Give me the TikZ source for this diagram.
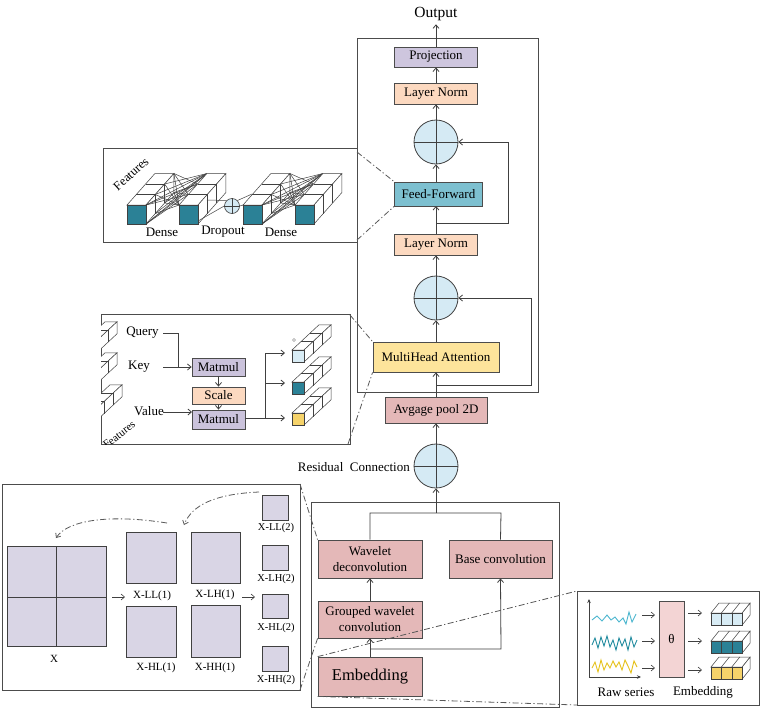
\documentclass[tikz,border=0pt]{standalone}
\usepackage{fontspec}
\setmainfont{Liberation Serif}
\usetikzlibrary{arrows.meta,calc}
\definecolor{projc}{HTML}{CEC6DE}
\definecolor{lnc}{HTML}{FCD9C0}
\definecolor{circc}{HTML}{D5EAF4}
\definecolor{ffc}{HTML}{7DC0D0}
\definecolor{mhac}{HTML}{FDE49B}
\definecolor{pinkc}{HTML}{E4B8B8}
\definecolor{lavc}{HTML}{D9D5E5}
\definecolor{tealc}{HTML}{2B8196}
\definecolor{lbluec}{HTML}{D8ECF5}
\definecolor{yelc}{HTML}{F6D36A}
\definecolor{matc}{HTML}{CBC3DC}
\definecolor{thetac}{HTML}{F3D4D4}
\definecolor{wblue}{HTML}{4FB8D0}
\definecolor{wteal}{HTML}{1F8A9E}
\definecolor{wyel}{HTML}{E6C21E}
\definecolor{linec}{HTML}{404040}
\newcommand{\fMain}{\fontsize{13}{16}\selectfont}
\newcommand{\fBig}{\fontsize{16.5}{18}\selectfont}
\newcommand{\fOut}{\fontsize{15.5}{17}\selectfont}
\newcommand{\fLab}{\fontsize{11}{12}\selectfont}
\newcommand{\fSm}{\fontsize{10.5}{12}\selectfont}
\newcommand{\fFeat}{\fontsize{12.5}{14}\selectfont}
\newcommand{\cubebar}[6]{%
  \draw[cubeln,fill=white] (#1,#2) -- ++({3*#4},{3*#5}) -- ++(#3,0) -- ({#1+#3},#2) -- cycle;
  \draw[cubeln,fill=white] ({#1+#3},#2) -- ++({3*#4},{3*#5}) -- ++(0,#3) -- ({#1+#3},{#2+#3}) -- cycle;
  \draw[cubeln,fill=#6] (#1,#2) rectangle ++(#3,#3);
  \foreach \k in {1,2}{\draw[cubeln] ({#1+\k*#4},{#2+\k*#5}) -- ++(#3,0) -- ++(0,#3);}
}
\newcommand{\embrow}[7]{%
  \draw[cubeln,fill=white] (#1,#2) -- ++(#5,#6) -- ++({3*#3},0) -- ({#1+3*#3},#2) -- cycle;
  \draw[cubeln,fill=white] ({#1+3*#3},#2) -- ++(#5,#6) -- ++(0,#4) -- ({#1+3*#3},{#2+#4}) -- cycle;
  \foreach \k in {0,1,2}{\draw[cubeln,fill=#7] ({#1+\k*#3},#2) rectangle ++(#3,#4);}
  \foreach \k in {1,2}{\draw[cubeln] ({#1+\k*#3},#2) -- ++(#5,#6);}
}
\tikzset{
  blk/.style={draw=black!70, line width=0.8pt, inner sep=0pt, align=center, font=\fMain},
  addc/.style={circle, draw=black!75, line width=0.8pt, fill=circc, minimum size=44pt, inner sep=0pt},
  conn/.style={draw=linec, line width=0.8pt},
  arr/.style={conn, -{Straight Barb[length=3.5pt,width=6pt]}},
  zoomline/.style={draw=black!65, line width=0.8pt, dash pattern=on 6pt off 2.5pt on 1.2pt off 2.5pt},
  panel/.style={draw=black!70, line width=0.9pt},
  cubeln/.style={draw=black!75, line width=0.5pt},
  sq/.style={draw=black!75, line width=0.7pt, fill=lavc},
  lab/.style={font=\fLab, inner sep=0pt},
}
\begin{document}
\begin{tikzpicture}[x=1pt,y=-1pt]
\useasboundingbox (0,0) rectangle (764,710);
\fill[white] (0,0) rectangle (764,710);

% ================= main encoder =================
\draw[panel] (357,38) rectangle (538,392);
\node[font=\fOut] (out) at (436,14) {Output};
\node[blk, fill=projc, minimum width=83pt, minimum height=20pt] (proj) at (436,57) {Projection};
\node[blk, fill=lnc, minimum width=83pt, minimum height=21pt] (ln1) at (436,93.5) {Layer Norm};
\node[addc] (add1) at (436,142) {};
\node[blk, fill=ffc, minimum width=88pt, minimum height=24pt] (ff) at (438.5,194) {Feed-Forward};
\node[blk, fill=lnc, minimum width=83pt, minimum height=21pt] (ln2) at (436,244.5) {Layer Norm};
\node[addc] (add2) at (436,298) {};
\node[blk, fill=mhac, minimum width=126pt, minimum height=30pt] (mha) at (436,357) {MultiHead Attention};
\node[blk, fill=pinkc, minimum width=102pt, minimum height=26pt] (avg) at (436,410) {Avgage pool 2D};
\node[addc] (add3) at (436,466) {};
\node[font=\fMain, anchor=east, inner sep=0pt] (rc) at (410,467) {Residual\ \ Connection};
\foreach \c in {add1,add2,add3}{
  \draw[conn] (\c.north) -- (\c.south);
  \draw[conn] (\c.west) -- (\c.east);
}
\draw[arr] (proj.north) -- (out.south);
\draw[arr] (ln1.north) -- (proj.south);
\draw[arr] (add1.north) -- (ln1.south);
\draw[arr] (436,182) -- (add1.south);
\draw[arr] (ln2.north) -- (436,206);
\draw[arr] (add2.north) -- (ln2.south);
\draw[arr] (mha.north) -- (add2.south);
\draw[arr] (avg.north) -- (mha.south);
\draw[arr] (add3.north) -- (avg.south);
\coordinate (r1) at (436,223);
\draw[arr] (r1) -- (508,223) -- (508,142) -- (add1.east);
\coordinate (r2) at (436,385);
\draw[arr] (r2) -- (531,385) -- (531,298) -- (add2.east);

% ================= lower conv box =================
\draw[panel] (311,502) rectangle (559,707);
\node[blk, fill=pinkc, minimum width=104pt, minimum height=38pt] (wd) at (370,559) {Wavelet\\deconvolution};
\node[blk, fill=pinkc, minimum width=103pt, minimum height=38pt] (bc) at (500.5,559) {Base convolution};
\node[blk, fill=pinkc, minimum width=104pt, minimum height=37pt] (gw) at (370,619.5) {Grouped wavelet\\convolution};
\node[blk, fill=pinkc, minimum width=104pt, minimum height=39pt, font=\fBig] (emb) at (370,676.5) {Embedding};
\coordinate (jt) at (436,513);
\draw[conn] (wd.north) -- (370,513) -- (501,513) -- (bc.north);
\draw[arr] (jt) -- (add3.south);
\draw[arr] (gw.north) -- (wd.south);
\draw[arr] (emb.north) -- (gw.south);
\coordinate (jb) at (370,649);
\draw[arr] (jb) -- (501,649) -- (bc.south);

% ================= feed-forward panel =================
\draw[panel, fill=white] (103,148) rectangle (357,242);
\node[font=\fFeat, rotate=42] (ffeat) at (131,174) {Features};
\cubebar{127}{205}{19}{9.3}{-10.5}{tealc}
\foreach \k/\j in {0/2,0/3,1/3,1/0,2/0,3/0,3/1,2/3,0/1,3/2}{
  \draw[cubeln] ({146+9.3*\k},{205-10.5*\k}) -- ({179+9.3*\j},{205-10.5*\j});
  \draw[cubeln] ({146+9.3*\k},{224-10.5*\k}) -- ({179+9.3*\j},{205-10.5*\j});
}
\cubebar{179}{205}{19}{9.3}{-10.5}{tealc}
\node[circle, draw=black!75, line width=0.6pt, fill=circc, minimum size=15pt, inner sep=0pt] (ffadd) at (232,206) {};
\draw[cubeln] (ffadd.north) -- (ffadd.south) (ffadd.west) -- (ffadd.east);
\draw[cubeln] (198,221) -- (ffadd.west);
\draw[cubeln] (207,200) -- (ffadd.north west);
\draw[cubeln] (ffadd.east) -- (243,205);
\draw[cubeln] (ffadd.north east) -- (252,194);
\cubebar{243}{205}{19}{9.3}{-10.5}{tealc}
\foreach \k/\j in {0/2,0/3,1/3,1/0,2/0,3/0,3/1,2/3,0/1,3/2}{
  \draw[cubeln] ({262+9.3*\k},{205-10.5*\k}) -- ({295+9.3*\j},{205-10.5*\j});
  \draw[cubeln] ({262+9.3*\k},{224-10.5*\k}) -- ({295+9.3*\j},{205-10.5*\j});
}
\cubebar{295}{205}{19}{9.3}{-10.5}{tealc}
\node[font=\fMain] (lden1) at (162,232) {Dense};
\node[font=\fMain] (ldrop) at (223,232) {Dropout};
\node[font=\fMain] (lden2) at (281,232) {Dense};

% ================= attention panel =================
\draw[panel, fill=white] (101,314) rectangle (350,444);
\begin{scope}
  \clip (101,314) rectangle (350,444);
  \cubebar{78}{347}{12}{9}{-8.4}{lbluec}
  \cubebar{78}{378}{12}{9}{-8.4}{tealc}
  \cubebar{83}{410}{12}{9}{-8.4}{yelc}
  \node[font=\fLab, rotate=38, anchor=east, inner sep=0pt] (afeat) at (134,423) {Features};
\end{scope}
\node[font=\fMain] (q) at (142.5,333) {Query};
\node[font=\fMain] (k) at (139,367) {Key};
\node[font=\fMain] (v) at (149,411) {Value};
\node[blk, fill=matc, minimum width=53pt, minimum height=18pt] (mm1) at (218.5,367) {Matmul};
\node[blk, fill=lnc, minimum width=53pt, minimum height=17pt] (sc) at (218.5,395.5) {Scale};
\node[blk, fill=matc, minimum width=53pt, minimum height=19pt] (mm2) at (218.5,419.5) {Matmul};
\draw[conn] (163,333) -- (178,333) -- (178,367);
\draw[arr] (163,367) -- (mm1.west);
\draw[arr] (163,412) -- (192,412);
\draw[arr] (mm1.south) -- (sc.north);
\draw[arr] (sc.south) -- (mm2.north);
\coordinate (aj) at (265,418);
\draw[conn] (mm2.east |- aj) -- (aj);
\draw[conn] (265,353) -- (265,418);
\draw[arr] (265,353) -- (285,353);
\draw[arr] (265,383) -- (285,383);
\draw[arr] (aj) -- (285,418);
\cubebar{292}{350}{12}{9}{-8.4}{lbluec}
\cubebar{292}{382}{12}{9}{-8.4}{tealc}
\cubebar{292}{413}{12}{9}{-8.4}{yelc}
\draw[black!40, line width=0.5pt] (294,340) circle (1.5);

% ================= wavelet panel =================
\draw[panel, fill=white] (2,484) rectangle (300,690);
\draw[sq] (7,546) rectangle (106,646);
\draw[black!75, line width=0.7pt] (56.5,546) -- (56.5,646) (7,597) -- (106,597);
\node[lab] (xl) at (54,659) {X};
\draw[sq] (126,532) rectangle (176,583);
\node[lab] (ll1) at (152,596) {X-LL(1)};
\draw[sq] (191,532) rectangle (240,583);
\node[lab] (lh1) at (215,595) {X-LH(1)};
\draw[sq] (126,606) rectangle (176,657);
\node[lab] (hl1) at (156,668) {X-HL(1)};
\draw[sq] (191,605) rectangle (240,657);
\node[lab] (hh1) at (215,668) {X-HH(1)};
\draw[sq] (262,495) rectangle (288,520);
\node[lab, font=\fSm] (ll2) at (276,528) {X-LL(2)};
\draw[sq] (262,545) rectangle (288,570);
\node[lab, font=\fSm] (lh2) at (276,579) {X-LH(2)};
\draw[sq] (262,594) rectangle (288,618);
\node[lab, font=\fSm] (hl2) at (276,628) {X-HL(2)};
\draw[sq] (262,646) rectangle (288,671);
\node[lab, font=\fSm] (hh2) at (276,680) {X-HH(2)};
\draw[arr, line width=0.6pt] (112,597) -- (125,597);
\draw[arr, line width=0.6pt] (242,597) -- (255,597);
\draw[zoomline, -{Straight Barb[length=3.5pt,width=6pt]}] (259,492) .. controls (215,494) and (192,505) .. (184,525);
\draw[zoomline, -{Straight Barb[length=3.5pt,width=6pt]}] (167,523) .. controls (110,514) and (68,520) .. (56,538);

% ================= raw series panel =================
\draw[panel, fill=white] (577,591) rectangle (759,705);
\draw[conn, line width=0.7pt, -{Stealth[length=4pt,width=3.5pt]}] (589,677) -- (589,599);
\draw[conn, line width=0.7pt, -{Stealth[length=4pt,width=3.5pt]}] (589,677) -- (641,677);
\draw[wblue, line width=0.9pt] plot coordinates {(592,620) (597,616) (602,621) (607,615) (611,620) (615,617) (619,622) (623,618) (626,624) (629,612) (632,622) (636,614)};
\draw[wteal, line width=0.9pt] plot coordinates {(592,645) (595,638) (598,648) (601,637) (604,646) (607,636) (610,647) (613,640) (616,650) (619,638) (622,646) (625,639) (628,650) (631,637) (634,647) (637,640)};
\draw[wyel, line width=0.9pt] plot coordinates {(592,668) (595,662) (598,672) (601,660) (604,670) (607,663) (610,668) (613,661) (616,667) (619,662) (622,670) (625,660) (628,666) (631,673) (634,661) (637,667)};
\node[draw=black!70, line width=0.7pt, fill=thetac, minimum width=25pt, minimum height=76pt, inner sep=0pt, font=\fMain] (th) at (671.5,639) {θ};
\draw[arr, line width=0.6pt] (642,615) -- (655,615);
\draw[arr, line width=0.6pt] (642,641) -- (655,641);
\draw[arr, line width=0.6pt] (642,668) -- (655,668);
\draw[arr, line width=0.6pt] (688,613) -- (702,613);
\draw[arr, line width=0.6pt] (688,641) -- (702,641);
\draw[arr, line width=0.6pt] (688,670) -- (702,670);
\embrow{711}{613}{10.4}{12}{8}{-10}{lbluec}
\embrow{711}{641}{10.4}{12}{8}{-10}{tealc}
\embrow{711}{667}{10.4}{12}{8}{-10}{yelc}
\node[font=\fMain] (lraw) at (626,692) {Raw series};
\node[font=\fMain] (lemb) at (703,692) {Embedding};

% ================= zoom guide lines =================
\draw[zoomline] (357,152) -- (ff.north west);
\draw[zoomline] (357,240) -- (ff.south west);
\draw[zoomline] (350,315) -- (mha.north west);
\draw[zoomline] (348,444) -- (mha.south west);
\draw[zoomline] (300,484) -- (wd.north west);
\draw[zoomline] (300,690) -- (gw.south west);
\draw[zoomline] (emb.north west) -- (577,591);
\draw[zoomline] (emb.south west) -- (577,705);
\end{tikzpicture}
\end{document}
